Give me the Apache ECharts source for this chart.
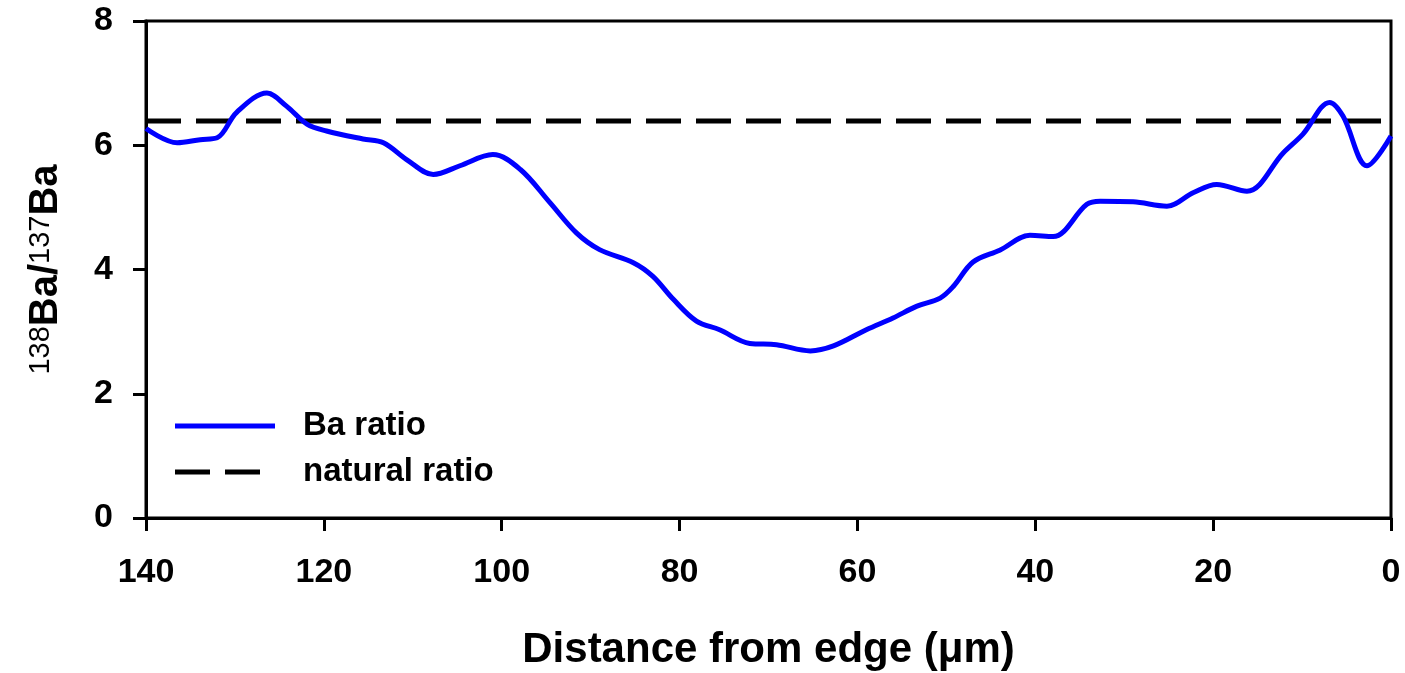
<!DOCTYPE html>
<html>
<head>
<meta charset="utf-8">
<script src="https://cdn.jsdelivr.net/npm/echarts@6/dist/echarts.min.js"></script>
<style>html,body{margin:0;padding:0;background:#fff}#c{width:1405px;height:673px}</style>
</head>
<body>
<div id="c"></div>
<script>
var distance = [140, 136.5, 133.9, 132.0, 129.8, 126.4, 124.2, 121.9, 119.7, 115.6, 113.3, 110.7, 107.7, 104.7, 101.0, 97.9, 94.6, 91.6, 89.0, 85.2, 83.0, 80.7, 78.1, 75.5, 72.1, 69.1, 65.3, 62.7, 59.0, 56.0, 53.3, 50.7, 49.2, 47.0, 44.0, 40.6, 38.0, 34.2, 32.7, 29.0, 25.2, 22.2, 19.6, 16.2, 12.1, 9.9, 6.9, 5.4, 2.7, 0];
var baRatio = [6.27, 6.04, 6.09, 6.12, 6.53, 6.84, 6.63, 6.34, 6.23, 6.10, 6.04, 5.77, 5.53, 5.67, 5.85, 5.61, 5.08, 4.59, 4.32, 4.11, 3.89, 3.52, 3.17, 3.03, 2.81, 2.79, 2.69, 2.77, 3.03, 3.22, 3.41, 3.54, 3.73, 4.12, 4.31, 4.55, 4.53, 5.05, 5.10, 5.09, 5.02, 5.24, 5.37, 5.26, 5.88, 6.18, 6.69, 6.47, 5.67, 6.15];
var naturalX = [140, 0];
var naturalRatio = [6.39, 6.39];
var xTicks = [0, 20, 40, 60, 80, 100, 120, 140];
var yTicks = [0, 2, 4, 6, 8];

var chart = echarts.init(document.getElementById('c'));
var font = '"Liberation Sans", Arial, sans-serif';
chart.setOption({
  animation: false,
  grid: {left: 146, right: 14, top: 21, bottom: 155, outerBoundsMode: 'none', containLabel: false,
    show: true, borderColor: '#000', borderWidth: 3, backgroundColor: 'transparent'},
  legend: {
    orient: 'vertical', left: 170, top: 403, padding: 5, itemWidth: 100, itemHeight: 5, itemGap: 10,
    textStyle: {fontFamily: font, fontWeight: 'bold', fontSize: 33, lineHeight: 36, color: '#000', padding: [0, 0, 0, 23]},
    data: [
      {name: 'Ba ratio', icon: 'rect', itemStyle: {color: '#0000ff', borderWidth: 0}},
      {name: 'natural ratio', icon: 'path://M0,0H35V5H0Z M50,0H85V5H50Z M99.9,2.4H100V2.6H99.9Z', itemStyle: {color: '#000', borderWidth: 0}}
    ]
  },
  xAxis: {
    type: 'value', inverse: true, min: 0, max: 140, interval: 20,
    axisLine: {onZero: false, lineStyle: {color: '#000', width: 3}},
    axisTick: {inside: false, length: 13, lineStyle: {color: '#000', width: 3}},
    splitLine: {show: false},
    axisLabel: {margin: 38, fontFamily: font, fontWeight: 'bold', fontSize: 34, color: '#000',
      formatter: function (v) { return xTicks.indexOf(v) >= 0 ? String(v) : ''; }},
    name: 'Distance from edge (μm)', nameLocation: 'middle', nameGap: 111,
    nameTextStyle: {fontFamily: font, fontWeight: 'bold', fontSize: 42, color: '#000'}
  },
  yAxis: {
    type: 'value', min: 0, max: 8, interval: 2,
    axisLine: {onZero: false, lineStyle: {color: '#000', width: 3}},
    axisTick: {length: 13, lineStyle: {color: '#000', width: 3}},
    splitLine: {show: false},
    axisLabel: {margin: 33, fontFamily: font, fontWeight: 'bold', fontSize: 34, color: '#000',
      formatter: function (v) { return yTicks.indexOf(v) >= 0 ? String(v) : ''; }},
    name: '{s|138}{b|Ba/}{s|137}{b|Ba}', nameLocation: 'middle', nameGap: 80, nameRotate: 90,
    nameTextStyle: {
      rich: {
        b: {fontFamily: font, fontWeight: 'bold', fontSize: 40, color: '#000', lineHeight: 40, padding: [13, 0, 0, 0], verticalAlign: 'bottom'},
        s: {fontFamily: font, fontSize: 29, color: '#000', lineHeight: 29, verticalAlign: 'top'}
      }
    }
  },
  series: [
    {
      name: 'Ba ratio', type: 'line', smooth: 0.35, symbol: 'none', showSymbol: false,
      lineStyle: {color: '#0000ff', width: 5}, itemStyle: {color: '#0000ff'},
      data: distance.map(function (d, i) { return [d, baRatio[i]]; }), z: 3
    },
    {
      name: 'natural ratio', type: 'line', symbol: 'none', showSymbol: false,
      lineStyle: {color: '#000', width: 5, type: [35, 15]}, itemStyle: {color: '#000'},
      data: naturalX.map(function (d, i) { return [d, naturalRatio[i]]; }), z: 2
    }
  ]
});
</script>
</body>
</html>
